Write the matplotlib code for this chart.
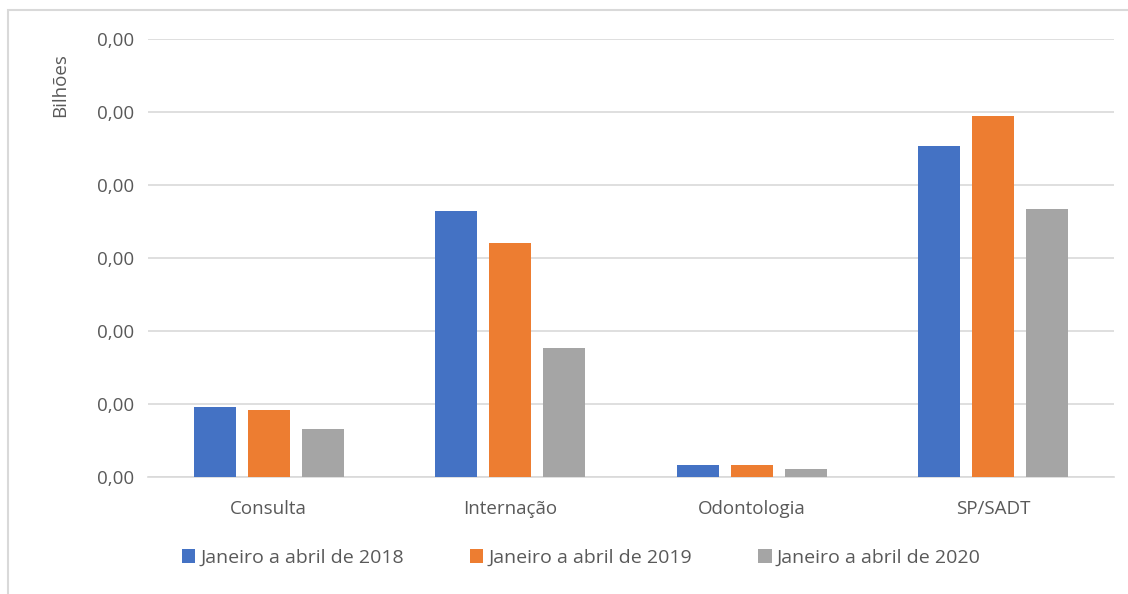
import matplotlib.pyplot as plt
import numpy as np
from matplotlib.patches import Rectangle
from matplotlib.ticker import FuncFormatter, MultipleLocator

# dados (em bilhões)
categorias = ['Consulta', 'Internação', 'Odontologia', 'SP/SADT']
series = ['Janeiro a abril de 2018', 'Janeiro a abril de 2019', 'Janeiro a abril de 2020']
valores_2018 = [0.0000955, 0.000364, 0.000016, 0.000453]
valores_2019 = [0.000092, 0.000321, 0.000016, 0.000495]
valores_2020 = [0.0000655, 0.000176, 0.000011, 0.000367]
cores = ['#4472C4', '#ED7D31', '#A5A5A5']

texto = '#595959'
grade = '#d9d9d9'
plt.rcParams['font.family'] = ['Open Sans', 'DejaVu Sans']

fig = plt.figure(figsize=(11.28, 5.94), dpi=100)
ax = fig.add_axes([148 / 1128, 1 - 476.7 / 594, (1114 - 148) / 1128, (476.7 - 39) / 594])

x = np.arange(len(categorias))
largura = 0.174
passo = 0.224
for i, (vals, nome) in enumerate(zip([valores_2018, valores_2019, valores_2020], series)):
    ax.bar(x + (i - 1) * passo, vals, largura, color=cores[i], label=nome, zorder=3)

ax.set_xlim(-0.5, 3.5)
ax.set_ylim(0, 0.0006)
ax.yaxis.set_major_locator(MultipleLocator(0.0001))
ax.yaxis.set_major_formatter(FuncFormatter(lambda v, p: f'{v:.2f}'.replace('.', ',')))
ax.grid(axis='y', color=grade, lw=1.2, zorder=0)
ax.set_xticks(x)
ax.set_xticklabels(categorias)
ax.tick_params(axis='both', length=0, colors=texto, labelsize=13.5)
ax.tick_params(axis='x', pad=17)
ax.tick_params(axis='y', pad=10)
for lado in ['top', 'right', 'left']:
    ax.spines[lado].set_visible(False)
ax.spines['bottom'].set_color(grade)
ax.spines['bottom'].set_linewidth(1.2)

fig.text(60 / 1128, 1 - 85 / 594, 'Bilhões', rotation=90, ha='center', va='center',
         color=texto, fontsize=13.5)

leg = fig.legend(loc='center', bbox_to_anchor=(581 / 1128, 1 - 558 / 594), ncol=3,
                 frameon=False, handlelength=0.7, handleheight=0.7, handletextpad=0.25,
                 columnspacing=3.4, fontsize=14)
for t in leg.get_texts():
    t.set_color(texto)

# moldura do gráfico
fig.patches.append(Rectangle((8 / 1128, -0.1), 1.2, 0.1 + 1 - 10 / 594, transform=fig.transFigure,
                             fill=False, edgecolor=grade, lw=1.5))

fig.savefig('out.png', dpi=100, facecolor='white')
